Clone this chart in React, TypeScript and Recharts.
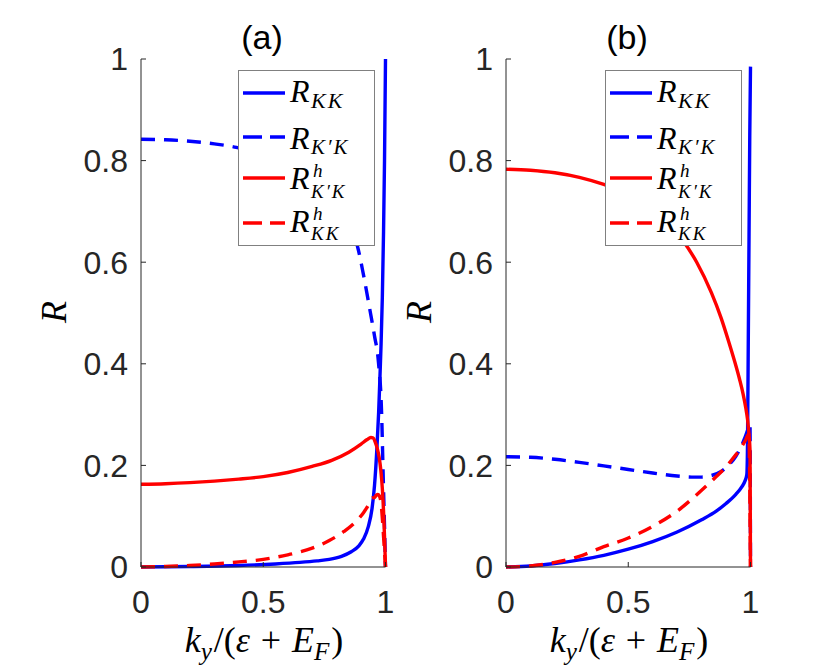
import React from 'react';
import { LineChart, Line, XAxis, YAxis, Legend } from 'recharts';

const xTicks = [0, 0.5, 1];
const yTicks = [0, 0.2, 0.4, 0.6, 0.8, 1];

// panel (a)
const aKKx = [0, 0.2, 0.4, 0.55, 0.65, 0.72, 0.77, 0.82, 0.86, 0.89, 0.91, 0.93, 0.945, 0.955, 0.965, 0.972, 0.977, 0.982, 0.987, 0.992, 0.996, 1.0];
const aKKy = [0, 0.001, 0.003, 0.006, 0.009, 0.012, 0.015, 0.021, 0.03, 0.041, 0.055, 0.08, 0.115, 0.16, 0.235, 0.305, 0.37, 0.44, 0.53, 0.66, 0.8, 1.0];

const aKpKx = [0, 0.1, 0.2, 0.3, 0.39, 0.5, 0.6, 0.7, 0.78, 0.84, 0.885, 0.91, 0.937, 0.955, 0.971, 0.984, 0.991, 0.996, 1.0];
const aKpKy = [0.842, 0.841, 0.838, 0.833, 0.826, 0.81, 0.785, 0.75, 0.71, 0.675, 0.632, 0.575, 0.504, 0.455, 0.404, 0.304, 0.171, 0.08, 0];

const aHKpKx = [0, 0.1, 0.2, 0.3, 0.4, 0.5, 0.6, 0.7, 0.78, 0.85, 0.9, 0.925, 0.94, 0.95, 0.958, 0.966, 0.974, 0.981, 0.987, 0.992, 0.996, 1.0];
const aHKpKy = [0.163, 0.164, 0.166, 0.169, 0.173, 0.178, 0.186, 0.198, 0.21, 0.226, 0.242, 0.251, 0.255, 0.254, 0.246, 0.234, 0.216, 0.19, 0.155, 0.11, 0.06, 0];

const aHKKx = [0, 0.1, 0.2, 0.3, 0.4, 0.5, 0.6, 0.7, 0.77, 0.83, 0.88, 0.91, 0.93, 0.945, 0.953, 0.962, 0.968, 0.975, 0.982, 0.988, 0.994, 1.0];
const aHKKy = [0, 0.001, 0.003, 0.006, 0.01, 0.015, 0.024, 0.037, 0.052, 0.07, 0.09, 0.107, 0.122, 0.136, 0.136, 0.141, 0.143, 0.14, 0.125, 0.09, 0.045, 0];

// panel (b)
const bKKx = [0, 0.1, 0.2, 0.3, 0.4, 0.5, 0.6, 0.7, 0.8, 0.86, 0.9, 0.94, 0.965, 0.978, 0.985, 0.988, 0.991, 0.994, 0.997, 1.0];
const bKKy = [0, 0.002, 0.007, 0.014, 0.023, 0.035, 0.05, 0.069, 0.093, 0.11, 0.125, 0.143, 0.158, 0.17, 0.182, 0.25, 0.45, 0.65, 0.85, 0.985];

const bKpKx = [0, 0.1, 0.2, 0.3, 0.4, 0.5, 0.6, 0.7, 0.76, 0.8, 0.84, 0.88, 0.91, 0.94, 0.96, 0.975, 0.985, 0.993, 0.998, 1.0];
const bKpKy = [0.217, 0.216, 0.212, 0.206, 0.199, 0.192, 0.185, 0.179, 0.177, 0.177, 0.18, 0.188, 0.2, 0.218, 0.235, 0.252, 0.265, 0.275, 0.28, 0];

const bHKpKx = [0, 0.1, 0.2, 0.3, 0.4, 0.5, 0.6, 0.66, 0.72, 0.78, 0.84, 0.88, 0.91, 0.935, 0.955, 0.97, 0.98, 0.988, 0.994, 0.998, 1.0];
const bHKpKy = [0.783, 0.781, 0.776, 0.767, 0.753, 0.733, 0.705, 0.682, 0.645, 0.6, 0.54, 0.49, 0.445, 0.405, 0.37, 0.34, 0.315, 0.29, 0.26, 0.23, 0];

const bHKKx = [0, 0.1, 0.2, 0.3, 0.4, 0.5, 0.6, 0.7, 0.8, 0.86, 0.9, 0.93, 0.96, 0.98, 0.993, 1.0];
const bHKKy = [0, 0.002, 0.009, 0.021, 0.04, 0.057, 0.08, 0.11, 0.151, 0.178, 0.197, 0.215, 0.234, 0.25, 0.262, 0];

const BLUE = '#0000ff';
const RED = '#ff0000';
const DASH = '14 9';
const AXIS = '#262626';
const LW = 3.4;
const FONT_SANS = '"Liberation Sans", Arial, Helvetica, sans-serif';
const FONT_MATH = '"Liberation Serif", "Times New Roman", serif';

const pts = (xs: number[], ys: number[]) => xs.map((x, i) => ({ x, y: ys[i] }));

const panelA = [
  { name: 'R_KK', data: pts(aKKx, aKKy), color: BLUE, dash: undefined },
  { name: "R_K'K", data: pts(aKpKx, aKpKy), color: BLUE, dash: DASH },
  { name: "R^h_K'K", data: pts(aHKpKx, aHKpKy), color: RED, dash: undefined },
  { name: 'R^h_KK', data: pts(aHKKx, aHKKy), color: RED, dash: DASH },
];

const panelB = [
  { name: 'R_KK', data: pts(bKKx, bKKy), color: BLUE, dash: undefined },
  { name: "R_K'K", data: pts(bKpKx, bKpKy), color: BLUE, dash: DASH },
  { name: "R^h_K'K", data: pts(bHKpKx, bHKpKy), color: RED, dash: undefined },
  { name: 'R^h_KK', data: pts(bHKKx, bHKKy), color: RED, dash: DASH },
];

const lineY = [23, 67, 108, 153];

const LegendBox = () => (
  <svg width={137} height={176} style={{ display: 'block' }}>
    <rect x={0.5} y={0.5} width={136} height={175} fill="#fff" stroke="#808080" />
    {panelA.map((s, i) => (
      <line key={s.name} x1={5} x2={47} y1={lineY[i]} y2={lineY[i]} stroke={s.color} strokeWidth={LW} strokeDasharray={s.dash ? '19 8' : undefined} />
    ))}
    <g fontFamily={FONT_MATH} fontStyle="italic" fill="#000">
      <text x={52} y={32} fontSize={32}>
        R<tspan x={73} dy={6} fontSize={22} letterSpacing={2}>KK</tspan>
      </text>
      <text x={52} y={79} fontSize={32}>
        R<tspan x={73} dy={5} fontSize={21} letterSpacing={2}>K′K</tspan>
      </text>
      <text x={52} y={119} fontSize={32}>
        R<tspan x={75} dy={-12} fontSize={19}>h</tspan>
        <tspan x={73} dy={21} fontSize={19} letterSpacing={2}>K′K</tspan>
      </text>
      <text x={52} y={162} fontSize={32}>
        R<tspan x={75} dy={-12} fontSize={19}>h</tspan>
        <tspan x={73} dy={20} fontSize={19} letterSpacing={2}>KK</tspan>
      </text>
    </g>
  </svg>
);

const centered = (x: number, y: number, extra: React.CSSProperties = {}): React.CSSProperties => ({
  position: 'absolute',
  left: x,
  top: y,
  transform: 'translate(-50%, -50%)',
  whiteSpace: 'nowrap',
  lineHeight: 1,
  ...extra,
});

const sub: React.CSSProperties = { fontSize: '0.7em', verticalAlign: '-0.3em', marginRight: '0.08em' };

function Panel({ left, title, series, legendLeft }: { left: number; title: string; series: typeof panelA; legendLeft: number }) {
  return (
    <div style={{ position: 'absolute', left, top: 0, width: 415, height: 665 }}>
      <LineChart width={415} height={665} margin={{ top: 59, right: 29.5, bottom: 0, left: 0 }}>
        <XAxis
          xAxisId="b"
          type="number"
          dataKey="x"
          domain={[0, 1]}
          ticks={xTicks}
          height={98}
          tickSize={-5}
          tickMargin={28}
          stroke={AXIS}
          tick={{ fill: AXIS, fontSize: 32, fontFamily: FONT_SANS }}
        />
        <XAxis xAxisId="t" orientation="top" type="number" dataKey="x" domain={[0, 1]} ticks={xTicks} height={0} tickSize={-5} tick={false} stroke={AXIS} />
        <YAxis
          yAxisId="l"
          type="number"
          domain={[0, 1]}
          ticks={yTicks}
          width={141}
          tickSize={-5}
          tickMargin={18}
          stroke={AXIS}
          tick={{ fill: AXIS, fontSize: 32, fontFamily: FONT_SANS }}
        />
        <YAxis yAxisId="r" orientation="right" type="number" domain={[0, 1]} ticks={yTicks} width={0} tickSize={-5} tick={false} stroke={AXIS} />
        {series.map((s) => (
          <Line
            key={s.name}
            xAxisId="b"
            yAxisId="l"
            data={s.data}
            dataKey="y"
            type="monotone"
            stroke={s.color}
            strokeWidth={LW}
            strokeDasharray={s.dash}
            dot={false}
            activeDot={false}
            isAnimationActive={false}
          />
        ))}
        <Legend
          layout="vertical"
          align="center"
          verticalAlign="middle"
          content={() => <LegendBox />}
          wrapperStyle={{ left: legendLeft, top: 70, width: 137, height: 176 }}
        />
      </LineChart>
      <div style={centered(262, 37, { fontFamily: FONT_SANS, fontSize: 34, color: '#000' })}>{title}</div>
      <div style={centered(54, 312, { fontFamily: FONT_MATH, fontSize: 36, fontStyle: 'italic', transform: 'translate(-50%, -50%) rotate(-90deg)' })}>R</div>
      <div style={centered(264, 643, { fontFamily: FONT_MATH, fontSize: 36 })}>
        <i>k</i>
        <i style={sub}>y</i>/(<i>ε</i>
        <span style={{ margin: '0 0.3em' }}>+</span>
        <i>E</i>
        <i style={sub}>F</i>)
      </div>
    </div>
  );
}

export default function App() {
  return (
    <div style={{ position: 'absolute', left: 0, top: 0, width: 830, height: 665, background: '#fff', overflow: 'hidden' }}>
      <Panel left={0} title="(a)" series={panelA} legendLeft={238} />
      <Panel left={365} title="(b)" series={panelB} legendLeft={240} />
    </div>
  );
}
